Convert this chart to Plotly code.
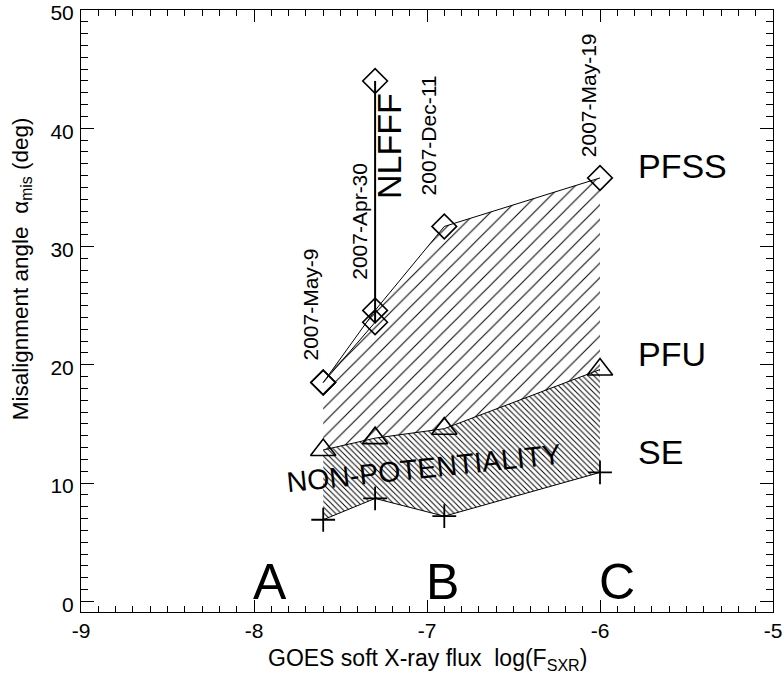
import plotly.graph_objects as go

# ---------------- data ----------------
flux = [-7.6, -7.3, -6.9, -6.0]            # log(F_SXR) of the four events
pfss = [18.5, 24.6, 31.7, 35.8]            # PFSS misalignment (deg)
pfss_alt_x = [-7.6, -7.3]
pfss_alt = [18.5, 23.6]                    # second PFSS value for 2007-Apr-30
pfu = [12.8, 13.8, 14.6, 19.6]             # PFU misalignment (deg)
se = [6.9, 8.7, 7.2, 10.9]                 # SE misalignment (deg)
nlfff_x = [-7.3, -7.3]
nlfff = [23.6, 44.0]                       # NLFFF bar for 2007-Apr-30
dates = ["2007-May-9", "2007-Apr-30", "2007-Dec-11", "2007-May-19"]
goes_classes = ["A", "B", "C"]
goes_class_x = [-8, -7, -6]
xticks = [-9, -8, -7, -6, -5]
xticklabels = ["-9", "-8", "-7", "-6", "-5"]
yticks = [0, 10, 20, 30, 40, 50]
yticklabels = ["0", "10", "20", "30", "40", "50"]

FONT = "Liberation Sans, Arial, Helvetica, sans-serif"

fig = go.Figure()

# upper hatched region (between PFSS and PFU)
fig.add_trace(go.Scatter(
    x=flux + flux[::-1], y=pfss + pfu[::-1], mode="lines", fill="toself",
    line=dict(width=0, color="rgba(0,0,0,0)"), fillcolor="rgba(0,0,0,0)",
    fillpattern=dict(shape="/", size=10.3, solidity=0.1, fgcolor="black",
                     bgcolor="rgba(0,0,0,0)", fgopacity=1),
    hoverinfo="skip", showlegend=False))

# lower hatched region (between PFU and SE)
fig.add_trace(go.Scatter(
    x=flux + flux[::-1], y=pfu + se[::-1], mode="lines", fill="toself",
    line=dict(width=0, color="rgba(0,0,0,0)"), fillcolor="rgba(0,0,0,0)",
    fillpattern=dict(shape="\\", size=4.0, solidity=0.24, fgcolor="black",
                     bgcolor="rgba(0,0,0,0)", fgopacity=1),
    hoverinfo="skip", showlegend=False))

# NLFFF vertical bar
fig.add_trace(go.Scatter(x=nlfff_x, y=nlfff, mode="lines",
                         line=dict(color="black", width=2), showlegend=False))

diamond = dict(symbol="diamond-open", size=19, color="black", line=dict(width=1.6))
# PFSS
fig.add_trace(go.Scatter(x=pfss_alt_x, y=pfss_alt, mode="lines+markers",
                         line=dict(color="black", width=1), marker=diamond,
                         showlegend=False))
fig.add_trace(go.Scatter(x=flux, y=pfss, mode="lines+markers",
                         line=dict(color="black", width=1), marker=diamond,
                         showlegend=False))
fig.add_trace(go.Scatter(x=nlfff_x[1:], y=nlfff[1:], mode="markers",
                         marker=diamond, showlegend=False))
# PFU
fig.add_trace(go.Scatter(x=flux, y=pfu, mode="lines+markers",
                         line=dict(color="black", width=1),
                         marker=dict(symbol="triangle-up-open", size=22, color="black",
                                     line=dict(width=1.6)),
                         showlegend=False))
# SE
fig.add_trace(go.Scatter(x=flux, y=se, mode="lines+markers",
                         line=dict(color="black", width=1),
                         marker=dict(symbol="cross-thin-open", size=17, color="black",
                                     line=dict(width=1.8)),
                         showlegend=False))

ann = []
# date labels (rotated)
date_pos = [(-7.676, 25.1), (-7.387, 32.1), (-6.994, 39.4), (-6.069, 42.8)]
for d, (xx, yy) in zip(dates, date_pos):
    ann.append(dict(x=xx, y=yy, text=d, textangle=-90, showarrow=False,
                    xanchor="center", yanchor="middle",
                    font=dict(size=21, color="black", family=FONT)))
ann.append(dict(x=-7.22, y=38.5, text="NLFFF", textangle=-90, showarrow=False,
                xanchor="center", yanchor="middle",
                font=dict(size=34, color="black", family=FONT)))
for lab, yy in [("PFSS", 36.8), ("PFU", 20.9), ("SE", 12.6)]:
    ann.append(dict(x=-5.792, y=yy, text=lab, xanchor="left", yanchor="middle",
                    showarrow=False, font=dict(size=34, color="black", family=FONT)))
for lab, xx in zip(goes_classes, goes_class_x):
    ann.append(dict(x=xx, y=1.6, text=lab, xanchor="left", yanchor="middle",
                    showarrow=False, xshift=-3,
                    font=dict(size=50, color="black", family=FONT)))
ann.append(dict(x=-7.017, y=11.3, text="NON-POTENTIALITY", textangle=-6,
                xanchor="center", yanchor="middle",
                showarrow=False, font=dict(size=28.5, color="black", family=FONT)))
# axis titles
ann.append(dict(xref="paper", yref="paper", x=-0.0853, y=0.571,
                xanchor="center", yanchor="middle",
                text="Misalignment angle  \u03b1<sub>mis</sub> (deg)", textangle=-90,
                showarrow=False, font=dict(size=22.5, color="black", family=FONT)))
ann.append(dict(xref="paper", yref="paper", x=0.5, y=-0.0797,
                xanchor="center", yanchor="middle",
                text="GOES soft X-ray flux  log(F<sub>SXR</sub>)",
                showarrow=False, font=dict(size=23, color="black", family=FONT)))

axis_common = dict(showgrid=False, zeroline=False, showline=True, linecolor="black",
                   linewidth=1, mirror="allticks", ticks="inside", tickcolor="black",
                   tickwidth=1, automargin=False, ticklabeloverflow="allow",
                   tickfont=dict(size=21, color="black", family=FONT))

fig.update_layout(
    width=784, height=674,
    margin=dict(l=81, r=11, t=10, b=62, autoexpand=False),
    paper_bgcolor="white", plot_bgcolor="white",
    xaxis=dict(range=[-9, -5], tickvals=xticks, ticktext=xticklabels, ticklen=12,
               minor=dict(dtick=0.1, tick0=0, ticklen=6, ticks="inside",
                          tickcolor="black", tickwidth=1),
               **axis_common),
    yaxis=dict(range=[-0.9, 50], tickvals=yticks, ticktext=yticklabels, ticklen=13,
               ticklabelshift=3, ticklabelstandoff=2,
               minor=dict(dtick=1, tick0=0, ticklen=7, ticks="inside",
                          tickcolor="black", tickwidth=1),
               **axis_common),
    annotations=ann,
    showlegend=False,
)

fig.write_html("out.html", config={"displayModeBar": False},
               post_script="document.body.style.margin='0';document.body.style.overflow='hidden';")
